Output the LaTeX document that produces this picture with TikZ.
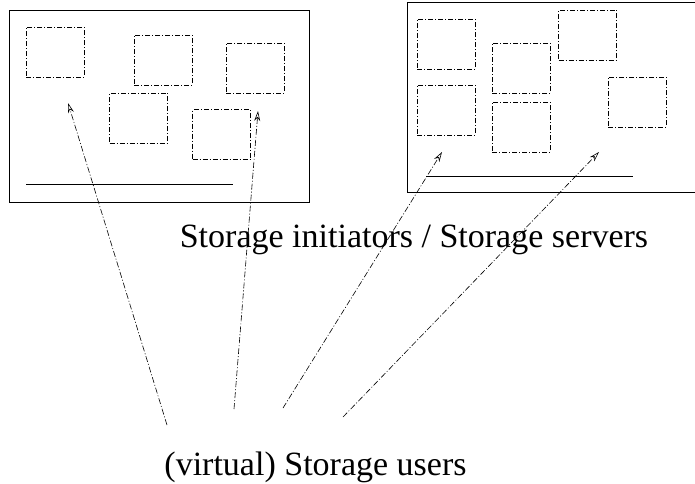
\documentclass[tikz,border=0pt]{standalone}
\usepackage{fontspec}
\setmainfont{Liberation Serif}
\usetikzlibrary{arrows.meta}

\begin{document}
\begin{tikzpicture} [
  y=-1pt,
  x=1pt,
  host/.style={draw, rectangle, line width=1pt},
  vm/.style={draw, rectangle, line width=0.8pt, minimum width=58pt, minimum height=50pt,
    dash pattern=on 5pt off 2pt on 1pt off 2pt},
  link/.style={-{Stealth[open, length=10pt, width=6pt]}, line width=0.6pt,
    dash pattern=on 6pt off 2pt on 1pt off 2pt},
  label/.style={font=\fontsize{34}{40}\selectfont, inner sep=0pt, anchor=base}
  ]
  \useasboundingbox (0,0) rectangle (695,483);

  \node(host-a)[host, minimum width=300pt, minimum height=192pt, at={(159,106)}]{};
  \node(host-b)[host, minimum width=293pt, minimum height=190pt, at={(553.5,97)}]{};

  \node(vm-a1)[vm, at={(55,52)}]{};
  \node(vm-a2)[vm, at={(163,60)}]{};
  \node(vm-a3)[vm, at={(255,68)}]{};
  \node(vm-a4)[vm, at={(138.5,118)}]{};
  \node(vm-a5)[vm, at={(221.5,134.5)}]{};
  \draw[line width=1pt] (26,184) -- (233,184);

  \node(vm-b1)[vm, at={(446,44)}]{};
  \node(vm-b2)[vm, at={(446,110)}]{};
  \node(vm-b3)[vm, at={(521,68)}]{};
  \node(vm-b4)[vm, at={(521,127)}]{};
  \node(vm-b5)[vm, at={(587.5,35)}]{};
  \node(vm-b6)[vm, at={(637,102)}]{};
  \draw[line width=1pt] (426,176) -- (633,176);

  \node(servers)[label, at={(414,247)}]{Storage initiators / Storage servers};
  \node(users)[label, at={(315.5,475)}]{(virtual) Storage users};

  \coordinate(u1) at (167,425);
  \coordinate(u2) at (234,409);
  \coordinate(u3) at (283,408);
  \coordinate(u4) at (343,417);
  \coordinate(t1) at (68,103);
  \coordinate(t2) at (258,111);
  \coordinate(t3) at (442,152);
  \coordinate(t4) at (599,152);

  \draw[link] (u1) -- (t1);
  \draw[link] (u2) -- (t2);
  \draw[link] (u3) -- (t3);
  \draw[link] (u4) -- (t4);
\end{tikzpicture}
\end{document}
